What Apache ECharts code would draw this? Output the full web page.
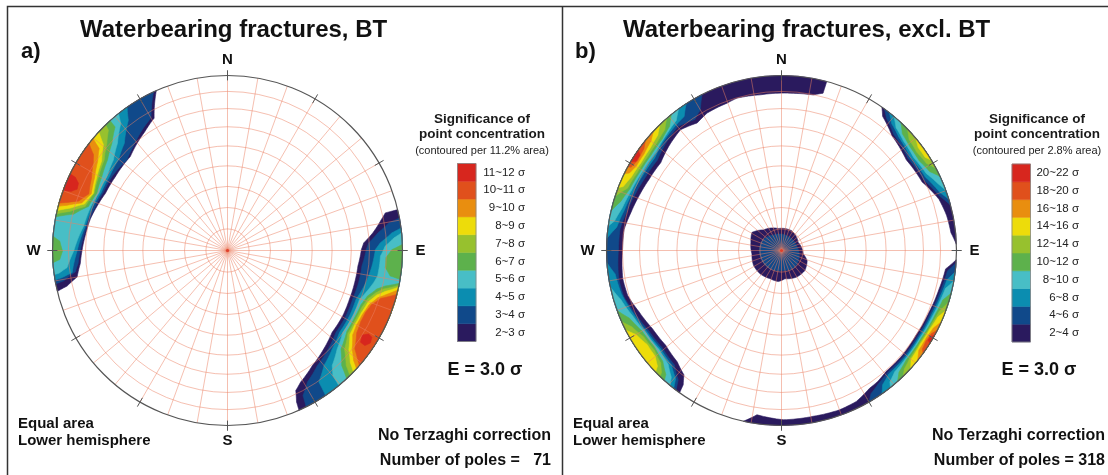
<!DOCTYPE html>
<html>
<head>
<meta charset="utf-8">
<script src="https://cdn.jsdelivr.net/npm/echarts@6/dist/echarts.min.js"></script>
<style>
  html, body { margin: 0; padding: 0; background: #fff; }
  #chart { width: 1108px; height: 475px; }
</style>
</head>
<body>
<div id="chart"></div>
<script>
const FONT = '"Liberation Sans", Arial, Helvetica, sans-serif';

// Significance classes, lowest to highest
const classColors = ['#2a1a5e', '#10498a', '#0b8db0', '#48bec6', '#5db14c',
                     '#97c12e', '#eddc0a', '#e98e0f', '#e0501c', '#d7261e'];
const classLabelsA = ['2~3 σ', '3~4 σ', '4~5 σ', '5~6 σ', '6~7 σ',
                      '7~8 σ', '8~9 σ', '9~10 σ', '10~11 σ', '11~12 σ'];
const classLabelsB = ['2~4 σ', '4~6 σ', '6~8 σ', '8~10 σ', '10~12 σ',
                      '12~14 σ', '14~16 σ', '16~18 σ', '18~20 σ', '20~22 σ'];

// Net: small circles (plunge, deg) and perimeter ticks (trend, deg)
const gridPlunges = [10, 20, 30, 40, 50, 60, 70, 80];
const tickTrends = [0, 30, 60, 90, 120, 150, 180, 210, 240, 270, 300, 330];

// Contour outlines as [class, [[trend, plunge], ...]]; outlines that start and
// end at plunge 0 are closed along the primitive circle.
const contoursA = [
  // NW cluster
  [1, [[336,0],[331,14.6],[325,18.5],[314,23.8],[303,24.3],[295,24],[289,22.4],[283,20.7],[276,19.4],[270,18],[265,16.7],[260,13.8],[257.5,6.8],[256.5,0]]],
  [2, [[335,0],[330,13.7],[326,15.9],[319,20.3],[312,23.7],[303,22.7],[295,22.7],[288,21.4],[280,19.6],[270,17],[265,15.4],[262,13.2],[259.5,5.4],[259,0]]],
  [3, [[325,0],[322.7,7.2],[320.8,9.8],[316.1,16.1],[309.7,20.1],[302,21.5],[294.4,21.7],[288.1,20.2],[279.6,18.7],[269.7,15.1],[261.9,11.3],[260.7,4.8],[260.3,0]]],
  [4, [[321.5,0],[320,5.8],[319,7.1],[314.2,13.3],[308.4,17.9],[301.5,20.3],[294,20.6],[287.9,19.1],[279.5,17.7],[269.7,13.1],[263.9,8.6],[262.3,3.1],[262.1,0]]],
  [5, [[317.9,0],[317.7,5.1],[312.8,10.9],[307,15.2],[300.5,17.8],[293.7,19.6],[287.6,17.8],[283.3,10.6],[281.1,0]]],
  [5, [[274.7,0],[273.2,4.5],[269.8,6.4],[266.9,4.5],[266,0]]],
  [6, [[315.9,0],[315.3,3.7],[311.6,8.6],[306.3,13.6],[299.8,16.2],[293.3,18.2],[287.2,16],[284,8.3],[282.1,0]]],
  [7, [[312.7,0],[310.5,7.5],[305.4,12.8],[299.2,15.5],[293,17.8],[288,15.2],[285.1,7.8],[283.2,0]]],
  [8, [[309.8,0],[308.5,7],[304.4,11],[298.6,14.5],[292.6,16.8],[288.1,13.5],[285.8,5.5],[284.6,0]]],
  [9, [[307.7,0],[305.6,6.5],[303.4,9],[298,13],[292.2,15.5],[288.4,11.5],[286.7,5],[285.7,0]]],
  [10, [[296,0],[295.7,4],[294.3,7.3],[292.2,8],[290.7,5],[290,0]]],
  // SE cluster
  [1, [[76.5,0],[76.6,8.1],[78.7,11.4],[83.1,17.5],[86.8,23.1],[89.6,24.5],[96.8,25.9],[104.2,26],[111.8,25.9],[119.5,25.3],[128,25.1],[135.6,22.4],[143.6,19.4],[150.9,15.1],[154,12],[155.5,5.5],[155.9,0]]],
  [2, [[79.3,0],[80.3,7.3],[83.3,14.5],[86.9,20.3],[89.6,21.8],[96.6,23.7],[103.7,23.9],[111.3,24.3],[118.8,23.7],[127,23.4],[134.3,20.6],[142,17.7],[148.7,13.1],[152.5,7.3],[153.3,0]]],
  [3, [[82.6,0],[83.9,6.3],[87.1,13.6],[89.6,16.6],[96.2,18.1],[103,19.9],[110.8,22.5],[118.2,22],[126.1,21.8],[133.2,19],[140,15.3],[145.2,9.4],[145.9,0]]],
  [4, [[84.2,0],[85.7,5.3],[88.4,10.8],[92.1,13.6],[95.9,13.8],[99.7,14.1],[102.4,15.6],[110.3,20.7],[117.5,20.4],[125.4,20.3],[131.9,16.9],[137.7,12.1],[139.9,7.3],[140.5,0]]],
  [5, [[88,0],[89.7,6.8],[92.6,10.3],[96.2,10.2],[98.9,6.6],[99.5,0]]],
  [5, [[100.8,0],[102.7,8.5],[104.5,13],[108,17],[112,18.8],[118,19],[124,18.8],[131,15.2],[135.2,8.2],[137.1,0]]],
  [6, [[101.5,0],[104,9.5],[106,13],[109,16.3],[113,17.8],[119,18],[124.5,17.6],[130.2,13.5],[134.1,6.2],[135.6,0]]],
  [7, [[102.1,0],[104.5,7.5],[106.6,12],[110,15.5],[115,16.8],[120,17],[124.5,16.3],[129.2,11.5],[132.3,5.8],[134,0]]],
  [8, [[103,0],[105.5,6.5],[107.5,11],[111,14.5],[115.5,15.8],[120,16],[124,14.8],[128.4,10],[131.1,4.9],[132.5,0]]],
  [9, [[104.5,0],[107.3,9],[110.7,13.2],[114.1,14.6],[117.9,14.8],[122.5,13.5],[127.7,8.9],[129.8,3.7],[131.1,0]]],
  [10, [[122.1,10.1],[120.6,7],[121,4.2],[122.9,3.1],[124.7,5.1],[124.6,8.5]]]
];

const contoursB = [
  // N, W and SW rim
  [1, [[15,0],[14.8,7.8],[11.5,10.2],[4.3,10.9],[352.2,11.2],[343.7,10.2],[339.7,11.2],[331.6,11.7],[326.5,13.7],[320.1,11],[312.8,13.3],[306,15.8],[298.2,15.2],[291,13.9],[284.2,12.3],[277.7,10.2],[270.5,10.1],[259.9,8.7],[253.7,9.3],[246.7,12.4],[238.8,14.9],[230.7,15.6],[223.1,13.9],[218.1,10.6],[216.2,5.5],[215.6,0]]],
  [2, [[333,0],[330,8],[326.5,11.2],[320.1,8.5],[312.8,10.8],[306,13.3],[298.2,12.7],[291,11.4],[284.2,9.8],[277.7,7.7],[270.5,7.6],[259.9,6.2],[253.7,6.8],[246.7,9.9],[238.8,12.4],[230.7,13.1],[223.1,11.4],[218.6,6],[217,0]]],
  [3, [[327,0],[324,6],[320.1,7],[312.8,9],[306,11.3],[298.2,10.8],[291,9.6],[284.2,8],[278,5.5],[274,0]]],
  [4, [[324,0],[321,5],[315,7.5],[308,9.8],[300,9.6],[292,8.5],[285,6.5],[280,3.5],[278,0]]],
  [5, [[321,0],[318,5],[313,7.5],[306,8.5],[299,8.3],[292,7.2],[287,4.5],[283,0]]],
  [6, [[319,0],[316,4.5],[311,6.5],[305,7.3],[298,7],[292,5.7],[288,0]]],
  [7, [[316,0],[313,3.8],[308,5.5],[302,6],[296,5],[292,2.8],[291,0]]],
  [8, [[313,0],[310,3],[305,4.5],[300,4.5],[297,2.8],[296,0]]],
  [9, [[309,0],[306.5,2.5],[302,3.5],[299,2],[298.5,0]]],
  [10, [[305,0],[304,2.8],[301.5,2.8],[300.5,0]]],
  [3, [[266,0],[262,4.5],[255,5.8],[247,8.8],[239,11.2],[231,12],[224,10.3],[219.5,5.5],[218,0]]],
  [4, [[258,0],[253,4.5],[246,8],[239,10.3],[231,11],[225,9.2],[221,4.5],[219.5,0]]],
  [5, [[250,0],[246,5.5],[240,8.8],[233,9.8],[227,8],[223,3.5],[222,0]]],
  [6, [[246,0],[243,4.5],[238,7.8],[232,8.5],[227,6.3],[224.5,2.5],[224,0]]],
  [7, [[243,0],[240,4.5],[235,7],[230,6.5],[227,3.5],[226,0]]],
  // NE rim
  [1, [[35,0],[37,4.5],[44,9.9],[54,12.9],[64,11.6],[72,6],[78,4],[84,3],[88,0]]],
  [2, [[36,0],[38.5,4],[44,8.5],[54,11.5],[64,10],[71,5],[75,0]]],
  [3, [[38,0],[41,4.5],[46,7.5],[54,10],[63,8.5],[70,4],[73,0]]],
  [4, [[40,0],[43,4.5],[48,7],[55,8.5],[62,7],[67,3],[70,0]]],
  [5, [[43,0],[46,4.5],[51,6.3],[57,6.8],[62,4.5],[65,0]]],
  [6, [[46,0],[49,3.8],[54,5],[59,3.8],[62,0]]],
  [7, [[50,0],[53,2.5],[57,2.5],[59,0]]],
  // SE and S rim
  [1, [[93,0],[96.4,6.3],[103.7,8.1],[112.6,9.5],[122.2,10.1],[130.8,9.5],[139.2,9.5],[143.7,7.9],[147.4,7.3],[153.6,4.2],[160,3.5],[169.2,4],[179.4,3.7],[188.5,5.7],[192.6,0]]],
  [2, [[94,0],[97,5],[104,7],[112.6,8.5],[122,9],[131,8.5],[139,8.5],[144,6.5],[148,4],[150,0]]],
  [3, [[97,0],[100,4.5],[106,6.2],[113,7.5],[122,8],[131,7.5],[139,7.3],[143,4.5],[145,0]]],
  [4, [[100,0],[103,4.3],[108,5.6],[114,6.7],[122,7.2],[131,6.7],[137,5.8],[140.5,3],[141.5,0]]],
  [5, [[104,0],[107,4],[112,5.3],[122,6.4],[131,5.9],[136,3.8],[138.5,0]]],
  [6, [[107,0],[111,3.8],[116,5],[123,5.6],[130,4.8],[134,2.8],[136,0]]],
  [7, [[110,0],[113,3.3],[118,4.6],[124,4.9],[130,3.8],[132.5,0]]],
  [8, [[114,0],[117,2.9],[121,3.8],[126,3.4],[129,0]]],
  [9, [[117,0],[119,2.3],[122,2.9],[125,2],[126,0]]],
  [10, [[119,0],[120,2],[121.5,2],[122,0]]],
  // steep poles around the centre
  [1, [[301.4,73.9],[318.8,77.3],[351.8,79.7],[27.3,79.7],[63.9,81.4],[99.1,79.8],[111.6,77.2],[130.7,75.7],[150.4,75.8],[173,76.8],[185.9,75.5],[202,75.9],[222.5,75.3],[241.7,75.3],[263.3,76.2],[284.9,75.3]]],
  [2, [[296.3,79.8],[332.1,81.9],[25.6,82.8],[72.5,82.7],[110.9,81.2],[141.2,80.1],[174.9,80.7],[211.9,80],[242.7,79.7],[273.9,79.7]]]
];

const GRID_COLOR = 'rgba(236,128,98,0.5)';
const D2R = Math.PI / 180;

// Lambert equal-area radius (0 at vertical, 1 at horizontal)
function eqArea(plunge) {
  return Math.SQRT2 * Math.sin((90 - plunge) / 2 * D2R);
}

// Unwrap trends, close the outline and subdivide every edge in trend/plunge space
function outlinePath(pts) {
  const u = [];
  let prev = null;
  pts.forEach(([t, p]) => {
    if (prev !== null) {
      while (t - prev > 180) t -= 360;
      while (prev - t > 180) t += 360;
    }
    u.push([t, p]);
    prev = t;
  });
  let [t0, p0] = u[0];
  while (t0 - prev > 180) t0 -= 360;
  while (prev - t0 > 180) t0 += 360;
  u.push([t0, p0]);
  const out = [];
  for (let i = 0; i < u.length - 1; i++) {
    const [ta, pa] = u[i], [tb, pb] = u[i + 1];
    const n = Math.max(1, Math.ceil(Math.max(Math.abs(tb - ta), Math.abs(pb - pa)) / 1.2));
    for (let k = 0; k < n; k++) {
      const f = k / n;
      out.push([ta + (tb - ta) * f, pa + (pb - pa) * f]);
    }
  }
  return out;
}

function contourSeries(contours, polarIndex) {
  const list = contours.slice().sort((a, b) => a[0] - b[0]);
  return {
    type: 'custom', coordinateSystem: 'polar', polarIndex, z: 2, silent: true,
    data: list.map(() => [0, 0]),
    renderItem(params, api) {
      const [cls, pts] = list[params.dataIndex];
      const points = outlinePath(pts).map(([t, p]) =>
        api.coord([eqArea(p), ((t % 360) + 360) % 360]));
      const col = classColors[cls - 1];
      return { type: 'polygon', shape: { points }, style: { fill: col, stroke: col, lineWidth: 0.6 } };
    }
  };
}

function ringSeries(polarIndex) {
  return {
    type: 'custom', coordinateSystem: 'polar', polarIndex, z: 6, silent: true,
    data: gridPlunges.map(p => [eqArea(p), 0]),
    renderItem(params, api) {
      const c = api.coord([0, 0]);
      const e = api.coord([eqArea(gridPlunges[params.dataIndex]), 90]);
      return { type: 'circle', shape: { cx: c[0], cy: c[1], r: Math.hypot(e[0] - c[0], e[1] - c[1]) },
               style: { fill: 'none', stroke: GRID_COLOR, lineWidth: 1 } };
    }
  };
}

function tickSeries(polarIndex) {
  return {
    type: 'custom', coordinateSystem: 'polar', polarIndex, z: 7, silent: true,
    data: tickTrends.map(t => [1, t]),
    renderItem(params, api) {
      const t = tickTrends[params.dataIndex];
      const a = api.coord([0.972, t]), b = api.coord([1.03, t]);
      return { type: 'line', shape: { x1: a[0], y1: a[1], x2: b[0], y2: b[1] },
               style: { stroke: '#555', lineWidth: 1 } };
    }
  };
}

function centreSeries(polarIndex) {
  return {
    type: 'custom', coordinateSystem: 'polar', polarIndex, z: 7, silent: true,
    data: [[0, 0]],
    renderItem(params, api) {
      const c = api.coord([0, 0]);
      return { type: 'circle', shape: { cx: c[0], cy: c[1], r: 1.6 }, style: { fill: '#e0402c' } };
    }
  };
}

function txt(x, y, text, font, align, fill) {
  return { type: 'text', x, y, silent: true,
           style: { text, font, fill: fill || '#111', align: align || 'left', verticalAlign: 'middle' } };
}

function legend(cx, barX, barTop, labelRight, area, labels) {
  const h = 17.8, els = [];
  els.push(txt(cx, 119, 'Significance of', 'bold 13.5px ' + FONT, 'center', '#1a1a1a'));
  els.push(txt(cx, 134, 'point concentration', 'bold 13.5px ' + FONT, 'center', '#1a1a1a'));
  els.push(txt(cx, 151, '(contoured per ' + area + ' area)', '11px ' + FONT, 'center', '#222'));
  classColors.forEach((col, i) => {
    const y = barTop + (classColors.length - 1 - i) * h;
    els.push({ type: 'rect', silent: true, shape: { x: barX, y, width: 18.5, height: h },
               style: { fill: col, stroke: col, lineWidth: 0.5 } });
    els.push(txt(labelRight, y + h / 2, labels[i], '11.5px ' + FONT, 'right', '#222'));
  });
  els.push({ type: 'rect', silent: true,
             shape: { x: barX, y: barTop, width: 18.5, height: h * classColors.length },
             style: { fill: 'none', stroke: '#888', lineWidth: 0.8 } });
  els.push(txt(labelRight - 40, 370, 'E = 3.0 σ', 'bold 18px ' + FONT, 'center', '#111'));
  return els;
}

function netLabels(cx, cy) {
  const f = 'bold 15px ' + FONT;
  return [
    txt(cx, 60, 'N', f, 'center'), txt(cx, 441, 'S', f, 'center'),
    txt(cx - 194, cy + 0.5, 'W', f, 'center'), txt(cx + 193, cy + 0.5, 'E', f, 'center')
  ];
}

const chart = echarts.init(document.getElementById('chart'), null, { renderer: 'canvas' });

const polarCenters = [[227.5, 250.5], [781.5, 250.5]];

chart.setOption({
  animation: false,
  backgroundColor: '#fff',
  polar: polarCenters.map(c => ({ center: c, radius: 175 })),
  angleAxis: [0, 1].map(i => ({
    polarIndex: i, type: 'value', min: 0, max: 360, interval: 10,
    startAngle: 90, clockwise: true, z: 5,
    axisLine: { show: true, lineStyle: { color: '#555', width: 1.2 } },
    axisTick: { show: false }, axisLabel: { show: false },
    splitLine: { show: true, lineStyle: { color: GRID_COLOR, width: 1 } },
    splitArea: { show: false }
  })),
  radiusAxis: [0, 1].map(i => ({
    polarIndex: i, type: 'value', min: 0, max: 1,
    axisLine: { show: false }, axisTick: { show: false },
    axisLabel: { show: false }, splitLine: { show: false }
  })),
  series: [
    contourSeries(contoursA, 0), ringSeries(0), tickSeries(0), centreSeries(0),
    contourSeries(contoursB, 1), ringSeries(1), tickSeries(1), centreSeries(1)
  ],
  graphic: { elements: [
    // panel frame
    { type: 'polyline', silent: true, shape: { points: [[7.5, 480], [7.5, 6.5], [1108, 6.5]] },
      style: { stroke: '#333', lineWidth: 1.5, fill: 'none' } },
    { type: 'line', silent: true, shape: { x1: 562.5, y1: 6.5, x2: 562.5, y2: 480 },
      style: { stroke: '#333', lineWidth: 1.5 } },
    // panel a
    txt(80, 30, 'Waterbearing fractures, BT', 'bold 24px ' + FONT),
    txt(21, 52, 'a)', 'bold 22px ' + FONT),
    ...netLabels(227.5, 250.5),
    ...legend(482, 457.5, 163.5, 525, '11.2%', classLabelsA),
    txt(18, 424, 'Equal area', 'bold 15px ' + FONT),
    txt(18, 441, 'Lower hemisphere', 'bold 15px ' + FONT),
    txt(551, 436, 'No Terzaghi correction', 'bold 16px ' + FONT, 'right'),
    txt(551, 461, 'Number of poles =   71', 'bold 16px ' + FONT, 'right'),
    // panel b
    txt(623, 30, 'Waterbearing fractures, excl. BT', 'bold 24px ' + FONT),
    txt(575, 52, 'b)', 'bold 22px ' + FONT),
    ...netLabels(781.5, 250.5),
    ...legend(1037, 1012, 164, 1079, '2.8%', classLabelsB),
    txt(573, 424, 'Equal area', 'bold 15px ' + FONT),
    txt(573, 441, 'Lower hemisphere', 'bold 15px ' + FONT),
    txt(1105, 436, 'No Terzaghi correction', 'bold 16px ' + FONT, 'right'),
    txt(1105, 461, 'Number of poles = 318', 'bold 16px ' + FONT, 'right')
  ] }
});
</script>
</body>
</html>
